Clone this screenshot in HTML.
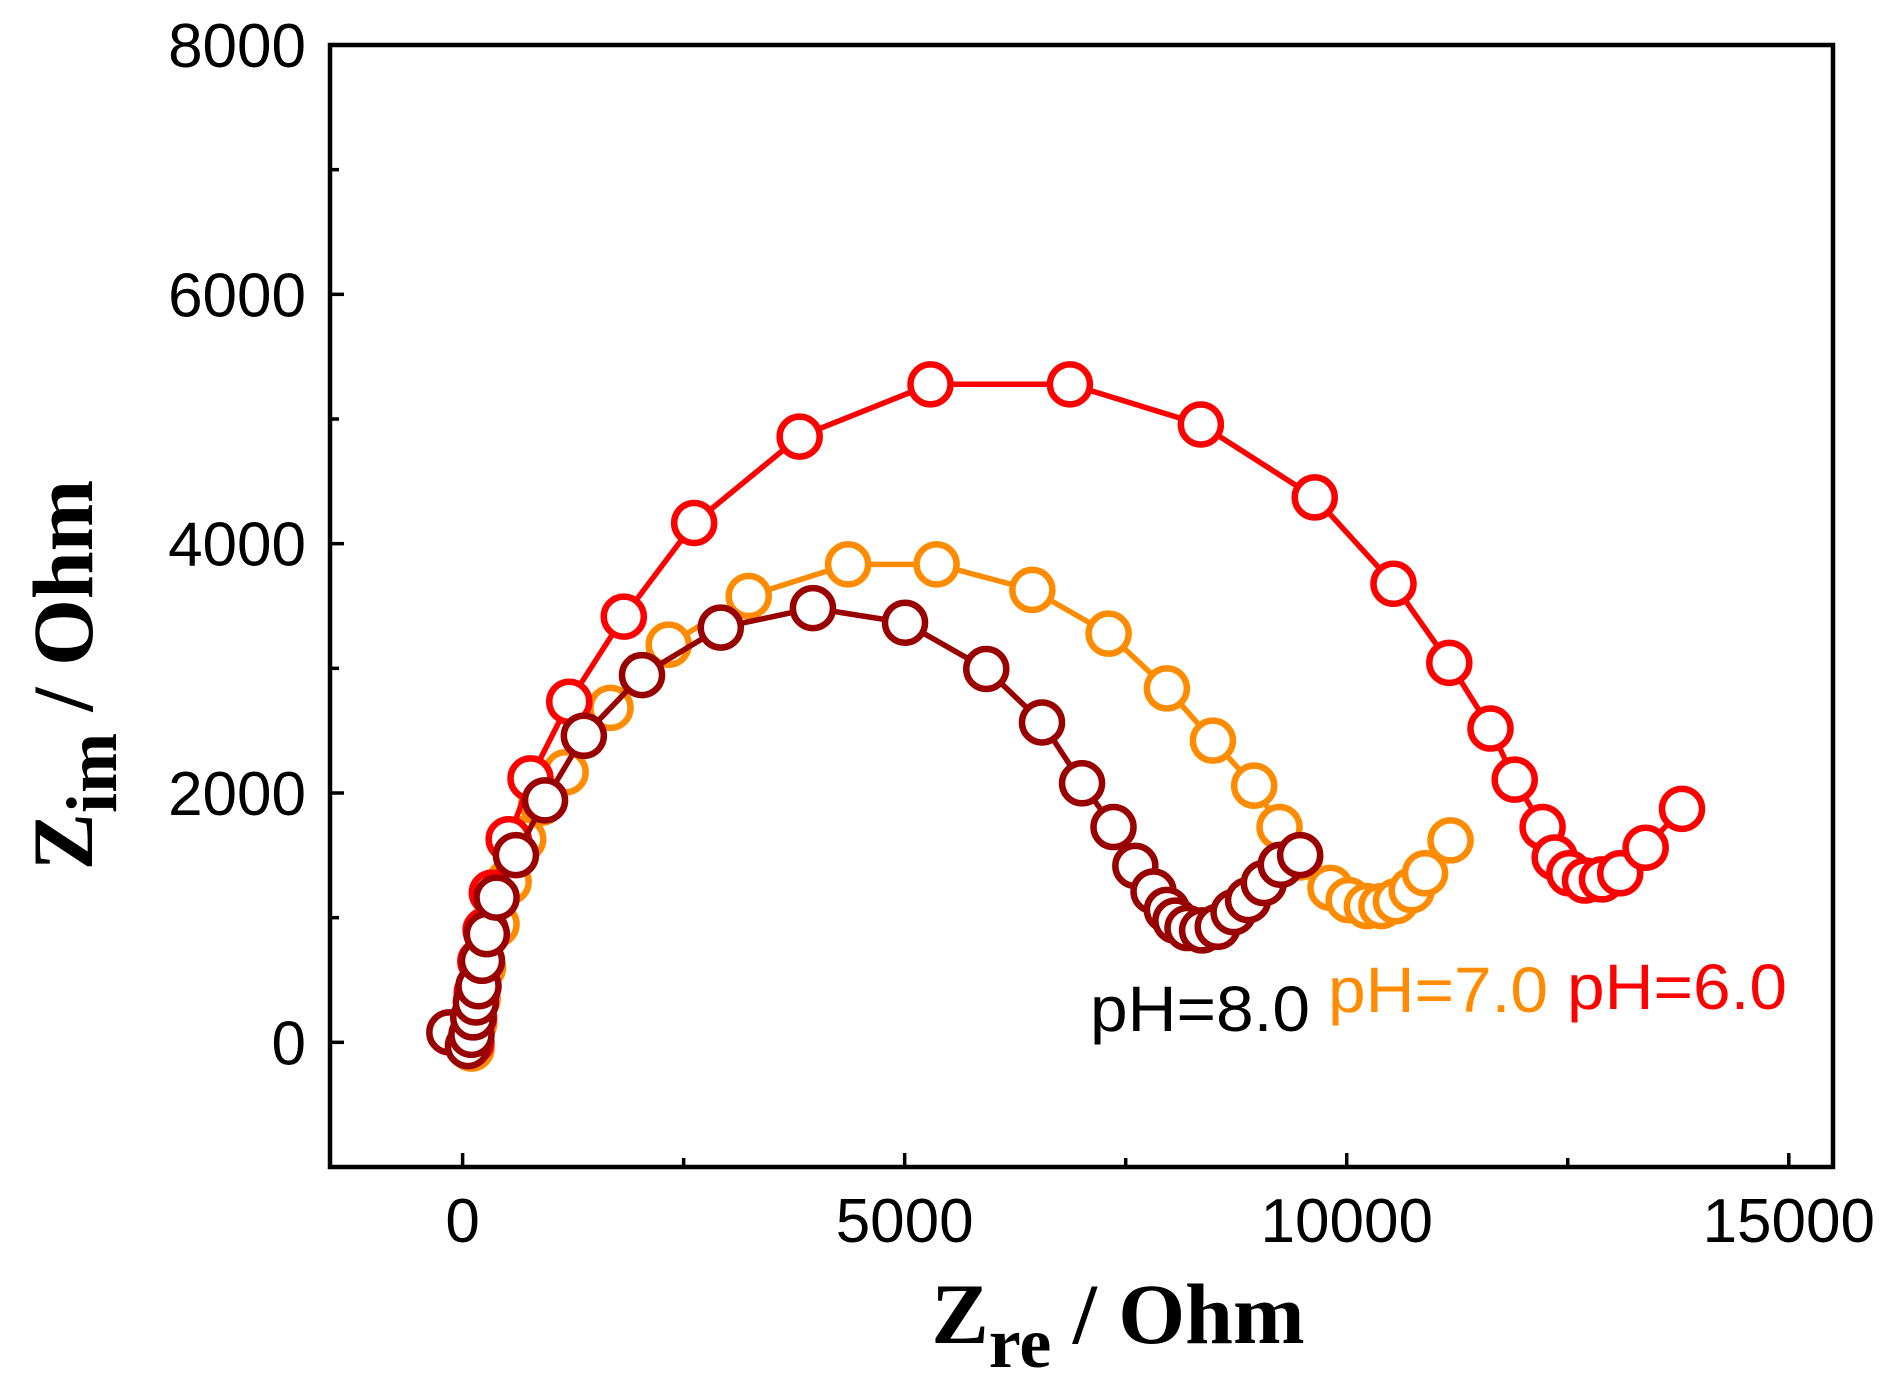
<!DOCTYPE html>
<html><head><meta charset="utf-8"><style>
html,body{margin:0;padding:0;background:#fff;}
svg{display:block;}
</style></head><body>
<svg id="chart" width="1896" height="1390" xmlns="http://www.w3.org/2000/svg">
<rect x="0" y="0" width="1896" height="1390" fill="#fff"/>
<g id="plot"></g>
<g id="axes"></g>
<text x="1118" y="1343" text-anchor="middle" font-family="Liberation Serif, serif" font-weight="bold" font-size="86">Z<tspan font-size="72" dy="24">re</tspan><tspan dy="-24"> / Ohm</tspan></text>
<text transform="translate(92,675) rotate(-90)" text-anchor="middle" font-family="Liberation Serif, serif" font-weight="bold" font-size="86">Z<tspan font-size="72" dy="24">im</tspan><tspan dy="-24"> / Ohm</tspan></text>
<text x="1090" y="1031" font-family="Liberation Sans, sans-serif" font-size="64" fill="#000" textLength="220" lengthAdjust="spacingAndGlyphs">pH=8.0</text>
<text x="1328" y="1012" font-family="Liberation Sans, sans-serif" font-size="64" fill="#ff8c00" textLength="220" lengthAdjust="spacingAndGlyphs">pH=7.0</text>
<text x="1567" y="1009" font-family="Liberation Sans, sans-serif" font-size="64" fill="#ff0000" textLength="220" lengthAdjust="spacingAndGlyphs">pH=6.0</text>
</svg>
<script>
const xTicks=[0,5000,10000,15000];
const yTicks=[0,2000,4000,6000,8000];
const ph6X=[100,130,160,200,260,330,521,768,1206,1823,2619,3812,5292,6869,8350,9638,10529,11160,11626,11900,12215,12352,12517,12695,12887,13093,13381,13792];
const ph6Y=[0,200,400,650,900,1200,1629,2117,2732,3415,4166,4859,5278,5278,4956,4371,3678,3044,2517,2107,1727,1483,1356,1298,1307,1356,1561,1873];
const ph7X=[100,130,170,230,384,521,685,891,1165,1673,2331,3236,4360,5361,6444,7307,7966,8486,8953,9240,9473,9816,10022,10228,10392,10557,10735,10886,11174];
const ph7Y=[-50,150,350,600,946,1288,1629,1922,2166,2683,3190,3580,3834,3834,3629,3278,2839,2420,2059,1727,1483,1239,1141,1093,1093,1132,1220,1356,1620];
const ph8X=[-150,60,100,120,150,180,219,274,384,603,932,1371,2029,2920,3962,5004,5923,6553,7006,7362,7609,7815,7966,8062,8199,8364,8541,8720,8884,9062,9254,9473];
const ph8Y=[80,-30,60,200,320,450,654,868,1161,1502,1941,2459,2946,3327,3483,3366,2995,2566,2078,1727,1415,1210,1063,976,917,898,927,1044,1141,1278,1424,1502];
const L=330,R=1833,T=45,B=1167,XMIN=-1500,XMAX=15500,YMIN=-1000,YMAX=8000;
function sx(v){return L+(v-XMIN)/(XMAX-XMIN)*(R-L);}
function sy(v){return B-(v-YMIN)/(YMAX-YMIN)*(B-T);}
const NS='http://www.w3.org/2000/svg';
function mk(tag,attrs,parent){const e=document.createElementNS(NS,tag);for(const k in attrs)e.setAttribute(k,attrs[k]);parent.appendChild(e);return e;}
const plot=document.getElementById('plot'),axes=document.getElementById('axes');
function series(xs,ys,color,name){
  const g=mk('g',{},plot);
  
  
  const pts=xs.map((x,i)=>sx(x).toFixed(1)+','+sy(ys[i]).toFixed(1)).join(' ');
  const pl=mk('polyline',{points:pts,fill:'none',stroke:color,'stroke-width':5.5},g);
  
  
  xs.forEach((x,i)=>{
    const c=mk('circle',{cx:sx(x),cy:sy(ys[i]),r:20,fill:'#fff',stroke:color,'stroke-width':6.5},g);
    
    
  });
}
series(ph7X,ph7Y,'#ff8c00','series-ph7');
series(ph6X,ph6Y,'#ff0000','series-ph6');
series(ph8X,ph8Y,'#990000','series-ph8');
const fr=mk('rect',{x:L,y:T,width:R-L,height:B-T,fill:'none',stroke:'#000','stroke-width':4.5},axes);


for(let v=0;v<=15000;v+=2500){
  const len=(v%5000===0)?14:9;
  const t=mk('line',{x1:sx(v),x2:sx(v),y1:B,y2:B-len,stroke:'#000','stroke-width':3.5},axes);
  
  
}
for(let v=-1000;v<=8000;v+=1000){
  const len=(v%2000===0)?14:9;
  const t=mk('line',{x1:L,x2:L+len,y1:sy(v),y2:sy(v),stroke:'#000','stroke-width':3.5},axes);
  
  
}
xTicks.forEach(v=>{
  const t=mk('text',{x:sx(v),y:1242,'text-anchor':'middle','font-family':'Liberation Sans, sans-serif','font-size':62},axes);
  t.textContent=v;
  
  
});
yTicks.forEach(v=>{
  const t=mk('text',{x:306,y:sy(v)+22,'text-anchor':'end','font-family':'Liberation Sans, sans-serif','font-size':62},axes);
  t.textContent=v;
  
  
});
</script>
</body></html>
